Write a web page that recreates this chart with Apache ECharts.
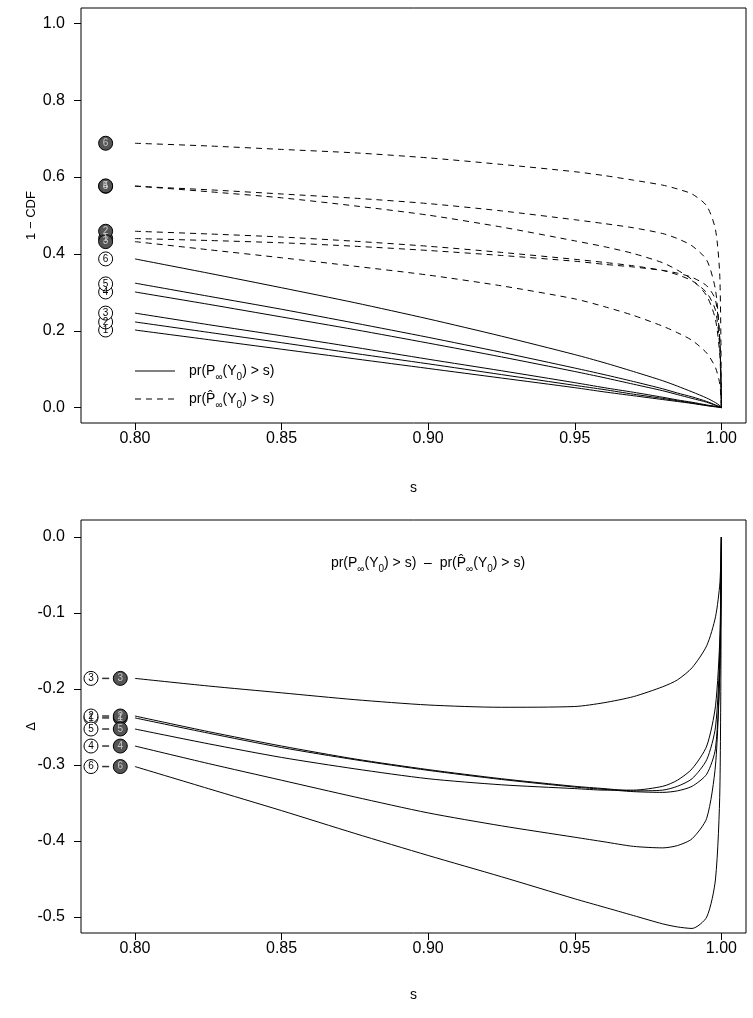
<!DOCTYPE html>
<html><head><meta charset="utf-8">
<script src="https://cdn.jsdelivr.net/npm/echarts@6/dist/echarts.min.js"></script>
<style>html,body{margin:0;padding:0;background:#fff}#c{width:753px;height:1018px}</style>
</head><body><div id="c"></div>
<script>
// s grid shared by all curves
const S = [0.80, 0.825, 0.85, 0.875, 0.90, 0.925, 0.95, 0.96, 0.97, 0.98, 0.985, 0.99, 0.995, 0.998, 0.9995, 1.0];

// top panel: pr(P(Y0) > s)  (solid)
const solid1 = [0.202, 0.177, 0.152, 0.127, 0.102, 0.077, 0.052, 0.041, 0.031, 0.021, 0.016, 0.011, 0.005, 0.002, 0.001, 0];
const solid2 = [0.223, 0.196, 0.169, 0.141, 0.114, 0.086, 0.058, 0.047, 0.035, 0.024, 0.018, 0.012, 0.006, 0.003, 0.001, 0];
const solid3 = [0.246, 0.216, 0.187, 0.157, 0.126, 0.096, 0.065, 0.052, 0.040, 0.027, 0.020, 0.014, 0.007, 0.003, 0.001, 0];
const solid4 = [0.301, 0.269, 0.236, 0.203, 0.168, 0.132, 0.094, 0.078, 0.061, 0.044, 0.034, 0.024, 0.014, 0.006, 0.002, 0];
const solid5 = [0.324, 0.290, 0.256, 0.220, 0.183, 0.144, 0.103, 0.086, 0.068, 0.049, 0.038, 0.028, 0.016, 0.007, 0.002, 0];
const solid6 = [0.387, 0.350, 0.312, 0.273, 0.231, 0.186, 0.138, 0.117, 0.094, 0.070, 0.056, 0.041, 0.025, 0.013, 0.005, 0];

// top panel: pr(P-hat(Y0) > s)  (dashed)
const dashed1 = [0.440, 0.435, 0.429, 0.420, 0.409, 0.396, 0.381, 0.373, 0.366, 0.357, 0.350, 0.339, 0.317, 0.280, 0.171, 0];
const dashed2 = [0.459, 0.452, 0.444, 0.433, 0.420, 0.404, 0.386, 0.378, 0.369, 0.357, 0.346, 0.330, 0.299, 0.253, 0.151, 0];
const dashed3 = [0.432, 0.411, 0.390, 0.368, 0.345, 0.317, 0.283, 0.263, 0.240, 0.212, 0.195, 0.175, 0.142, 0.104, 0.060, 0];
const dashed4 = [0.576, 0.567, 0.556, 0.545, 0.531, 0.512, 0.489, 0.479, 0.468, 0.453, 0.440, 0.421, 0.384, 0.306, 0.172, 0];
const dashed5 = [0.577, 0.562, 0.546, 0.525, 0.501, 0.470, 0.434, 0.419, 0.401, 0.377, 0.358, 0.333, 0.291, 0.229, 0.132, 0];
const dashed6 = [0.688, 0.681, 0.672, 0.663, 0.650, 0.633, 0.614, 0.604, 0.592, 0.579, 0.569, 0.556, 0.525, 0.463, 0.335, 0];

// bottom panel: difference
const delta1 = [-0.238, -0.258, -0.277, -0.293, -0.307, -0.319, -0.329, -0.332, -0.335, -0.336, -0.334, -0.328, -0.312, -0.278, -0.170, 0];
const delta2 = [-0.2355, -0.256, -0.275, -0.292, -0.306, -0.318, -0.328, -0.331, -0.334, -0.333, -0.328, -0.318, -0.293, -0.250, -0.150, 0];
const delta3 = [-0.186, -0.196, -0.205, -0.214, -0.221, -0.224, -0.223, -0.218, -0.210, -0.197, -0.188, -0.172, -0.143, -0.105, -0.060, 0];
const delta4 = [-0.275, -0.298, -0.320, -0.342, -0.363, -0.380, -0.395, -0.401, -0.407, -0.409, -0.406, -0.397, -0.370, -0.300, -0.170, 0];
const delta5 = [-0.2526, -0.272, -0.290, -0.305, -0.318, -0.326, -0.331, -0.333, -0.333, -0.328, -0.320, -0.305, -0.275, -0.222, -0.130, 0];
const delta6 = [-0.302, -0.331, -0.360, -0.390, -0.419, -0.447, -0.476, -0.487, -0.498, -0.509, -0.513, -0.515, -0.500, -0.450, -0.330, 0];

// marker labels and positions
const markerIds = ['1', '2', '3', '4', '5', '6'];
const topMarkerS = 0.79;
const openMarkerY = [0.202, 0.223, 0.246, 0.301, 0.322, 0.387];
const filledMarkerY = [0.440, 0.459, 0.432, 0.576, 0.577, 0.688];
const bottomOpenS = 0.785, bottomDashS = 0.79, bottomFilledS = 0.795;
const deltaMarkerY = [-0.238, -0.2355, -0.186, -0.275, -0.2526, -0.302];

// axis ticks
const xTicks = [0.80, 0.85, 0.90, 0.95, 1.00];
const yTicksTop = [0.0, 0.2, 0.4, 0.6, 0.8, 1.0];
const yTicksBottom = [0.0, -0.1, -0.2, -0.3, -0.4, -0.5];

const FONT = 'Liberation Sans, Arial, sans-serif';
const solids = [solid1, solid2, solid3, solid4, solid5, solid6];
const dasheds = [dashed1, dashed2, dashed3, dashed4, dashed5, dashed6];
const deltas = [delta1, delta2, delta3, delta4, delta5, delta6];
const pairs = arr => S.map((s, i) => [s, arr[i]]);

function lineSeries(arr, axisIdx, dashed) {
  return {
    type: 'line', xAxisIndex: axisIdx, yAxisIndex: axisIdx, data: pairs(arr),
    showSymbol: false, symbol: 'none', silent: true, animation: false, z: 2,
    smooth: 0.25,
    lineStyle: { color: '#000', width: 1, type: dashed ? [6, 5] : 'solid' }
  };
}
function markerSeries(xs, ys, axisIdx, filled) {
  return {
    type: 'scatter', xAxisIndex: axisIdx, yAxisIndex: axisIdx, animation: false, z: 5,
    symbol: 'circle', symbolSize: 14,
    itemStyle: { color: filled ? '#555' : '#fff', borderColor: '#000', borderWidth: 1, opacity: 1 },
    label: { show: true, position: 'inside', formatter: p => p.name, fontSize: 10, fontFamily: FONT,
             color: filled ? '#c8c8c8' : '#000' },
    data: ys.map((y, i) => ({ name: markerIds[i], value: [xs, y] }))
  };
}

const xAxisCommon = {
  type: 'value', min: 0.7816, max: 1.0084,
  axisLine: { show: false, onZero: false }, splitLine: { show: false },
  axisTick: { show: true, length: 7, customValues: xTicks, lineStyle: { color: '#000' } },
  axisLabel: { customValues: xTicks, formatter: v => v.toFixed(2), fontSize: 16, fontFamily: FONT, color: '#000', margin: 8 },
  name: 's', nameLocation: 'middle', nameTextStyle: { fontSize: 14, fontFamily: FONT, color: '#000' }
};
const yAxisCommon = {
  type: 'value', axisLine: { show: false, onZero: false }, splitLine: { show: false },
  axisTick: { show: true, length: 7, lineStyle: { color: '#000' } },
  axisLabel: { fontSize: 16, fontFamily: FONT, color: '#000', margin: 16, formatter: v => v.toFixed(1) },
  nameLocation: 'middle', nameRotate: 90, nameMoveOverlap: false,
  nameTextStyle: { fontSize: 13, fontFamily: FONT, color: '#000' }
};

const series = [];
solids.forEach(a => series.push(lineSeries(a, 0, false)));
dasheds.forEach(a => series.push(lineSeries(a, 0, true)));
deltas.forEach(a => series.push(lineSeries(a, 1, false)));
series.push(markerSeries(topMarkerS, openMarkerY, 0, false));
series.push(markerSeries(topMarkerS, filledMarkerY, 0, true));
series.push({
  type: 'scatter', xAxisIndex: 1, yAxisIndex: 1, animation: false, z: 4,
  symbol: 'rect', symbolSize: [7, 1.5], itemStyle: { color: '#000' },
  data: deltaMarkerY.map(y => [bottomDashS, y])
});
series.push(markerSeries(bottomOpenS, deltaMarkerY, 1, false));
series.push(markerSeries(bottomFilledS, deltaMarkerY, 1, true));

const rich = {
  a: { fontSize: 14, fontFamily: FONT, color: '#000', lineHeight: 22, verticalAlign: 'middle' },
  sub: { fontSize: 10, fontFamily: FONT, color: '#000', lineHeight: 14, verticalAlign: 'bottom' }
};

const option = {
  backgroundColor: '#fff',
  animation: false,
  grid: [
    { left: 81, top: 8, width: 665, height: 415, show: true, borderColor: '#000', borderWidth: 1, backgroundColor: 'transparent' },
    { left: 81, top: 520, width: 665, height: 413, show: true, borderColor: '#000', borderWidth: 1, backgroundColor: 'transparent' }
  ],
  xAxis: [
    Object.assign({}, xAxisCommon, { gridIndex: 0, nameGap: 58 }),
    Object.assign({}, xAxisCommon, { gridIndex: 1, nameGap: 55 })
  ],
  yAxis: [
    Object.assign({}, yAxisCommon, {
      gridIndex: 0, min: -0.04, max: 1.04, name: '1 \u2212 CDF', nameGap: 43,
      axisTick: Object.assign({}, yAxisCommon.axisTick, { customValues: yTicksTop }),
      axisLabel: Object.assign({}, yAxisCommon.axisLabel, { customValues: yTicksTop })
    }),
    Object.assign({}, yAxisCommon, {
      gridIndex: 1, min: -0.521, max: 0.0224, name: '\u0394', nameGap: 43,
      axisTick: Object.assign({}, yAxisCommon.axisTick, { customValues: yTicksBottom }),
      axisLabel: Object.assign({}, yAxisCommon.axisLabel, { customValues: yTicksBottom })
    })
  ],
  series: series,
  graphic: [
    { type: 'line', shape: { x1: 135, y1: 371, x2: 175, y2: 371 }, style: { stroke: '#000', lineWidth: 1 }, z: 10 },
    { type: 'line', shape: { x1: 135, y1: 399, x2: 177, y2: 399 }, style: { stroke: '#000', lineWidth: 1, lineDash: [6, 5] }, z: 10 },
    { type: 'text', x: 189, y: 371, z: 10, style: {
        text: '{a|pr(P}{sub|\u221e}{a|(Y}{sub|0}{a|) > s)}', rich: rich, verticalAlign: 'middle', align: 'left' } },
    { type: 'text', x: 189, y: 399, z: 10, style: {
        text: '{a|pr(P\u0302}{sub|\u221e}{a|(Y}{sub|0}{a|) > s)}', rich: rich, verticalAlign: 'middle', align: 'left' } },
    { type: 'text', x: 428, y: 563, z: 10, style: {
        text: '{a|pr(P}{sub|\u221e}{a|(Y}{sub|0}{a|) > s)  \u2013  pr(P\u0302}{sub|\u221e}{a|(Y}{sub|0}{a|) > s)}',
        rich: rich, verticalAlign: 'middle', align: 'center' } }
  ]
};
const chart = echarts.init(document.getElementById('c'), null, { renderer: 'canvas' });
chart.setOption(option);
</script></body></html>
